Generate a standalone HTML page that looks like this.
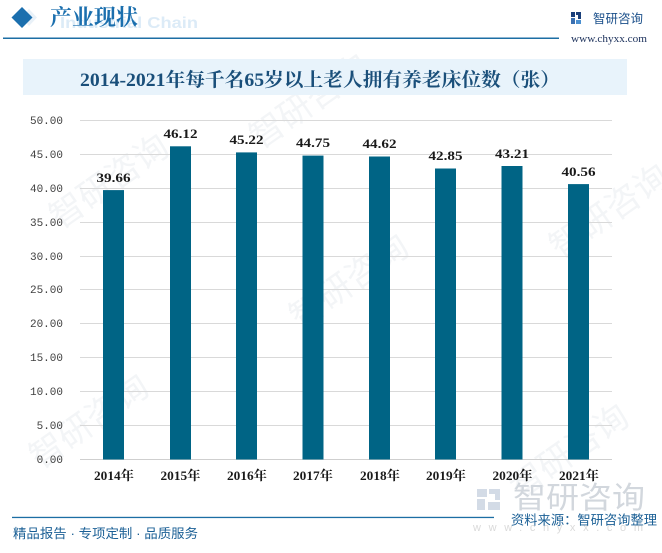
<!DOCTYPE html>
<html>
<head>
<meta charset="utf-8">
<style>
html,body{margin:0;padding:0;background:#fff;}
svg{display:block;}
</style>
</head>
<body>
<svg width="662" height="553" viewBox="0 0 662 553" xmlns="http://www.w3.org/2000/svg">
  <rect width="662" height="553" fill="#fff"/>

  <!-- faint background watermarks -->
  <g fill="#f3f5f7" font-family="'Liberation Sans','Noto Sans CJK SC',sans-serif" font-size="34">
    <text x="60" y="230" transform="rotate(-35 60 230)">智研咨询</text>
    <text x="300" y="330" transform="rotate(-35 300 330)">智研咨询</text>
    <text x="40" y="470" transform="rotate(-35 40 470)">智研咨询</text>
    <text x="560" y="260" transform="rotate(-35 560 260)">智研咨询</text>
    <text x="520" y="500" transform="rotate(-35 520 500)">智研咨询</text>
    <text x="260" y="150" transform="rotate(-35 260 150)">智研咨询</text>
  </g>

  <!-- header -->
  <polygon points="29,9 37,17.5 29,26 21,17.5" fill="#dbe8f3" opacity="0.6"/>
  <polygon points="22,7 32.5,17.5 22,28 11.5,17.5" fill="#1b6fae"/>
  <text x="60" y="28" font-family="'Liberation Sans',sans-serif" font-weight="bold" font-size="16" fill="#dcebf7" textLength="138" lengthAdjust="spacingAndGlyphs">Industrial Chain</text>
  <text x="50" y="25" font-family="'Liberation Serif','Noto Serif CJK SC',serif" font-size="22" font-weight="bold" fill="#1b6fae" textLength="88" lengthAdjust="spacingAndGlyphs">产业现状</text>
  <rect x="3" y="37.5" width="556" height="1.5" fill="#1c6ea4"/>

  <!-- top-right logo -->
  <g>
    <rect x="571" y="12" width="4" height="5" fill="#1a3f7a"/>
    <rect x="576" y="12" width="5" height="3" fill="#1a3f7a"/>
    <rect x="578" y="15" width="3" height="4" fill="#1a3f7a"/>
    <rect x="571" y="18" width="4" height="6" fill="#3a6fb0"/>
    <rect x="576" y="20" width="5" height="4" fill="#4a8fd0"/>
  </g>
  <text x="593" y="23" font-family="'Liberation Sans','Noto Sans CJK SC',sans-serif" font-size="12.5" fill="#1a4f8a" textLength="50" lengthAdjust="spacingAndGlyphs">智研咨询</text>
  <text x="571" y="42" font-family="'Liberation Serif',serif" font-size="10" fill="#1a2f5a" textLength="76" lengthAdjust="spacingAndGlyphs">www.chyxx.com</text>

  <!-- title box -->
  <rect x="23" y="59" width="604" height="36" fill="#e8f3fb"/>
  <text x="80" y="86" font-family="'Liberation Serif','Noto Serif CJK SC',serif" font-size="19" font-weight="bold" fill="#1a4f7a" textLength="480" lengthAdjust="spacingAndGlyphs">2014-2021年每千名65岁以上老人拥有养老床位数（张）</text>

  <!-- gridlines -->
  <g stroke="#d9d9d9" stroke-width="1">
    <line x1="80" y1="120.5" x2="612" y2="120.5"/>
    <line x1="80" y1="154.5" x2="612" y2="154.5"/>
    <line x1="80" y1="188.5" x2="612" y2="188.5"/>
    <line x1="80" y1="222.5" x2="612" y2="222.5"/>
    <line x1="80" y1="256.5" x2="612" y2="256.5"/>
    <line x1="80" y1="289.5" x2="612" y2="289.5"/>
    <line x1="80" y1="323.5" x2="612" y2="323.5"/>
    <line x1="80" y1="357.5" x2="612" y2="357.5"/>
    <line x1="80" y1="391.5" x2="612" y2="391.5"/>
    <line x1="80" y1="425.5" x2="612" y2="425.5"/>
  </g>
  <line x1="80" y1="459.5" x2="612" y2="459.5" stroke="#cfcfcf" stroke-width="1"/>

  <!-- y labels -->
  <g font-family="'Liberation Mono',monospace" font-size="11" fill="#404040" text-anchor="end">
    <text x="63" y="124">50.00</text>
    <text x="63" y="158">45.00</text>
    <text x="63" y="192">40.00</text>
    <text x="63" y="226">35.00</text>
    <text x="63" y="260">30.00</text>
    <text x="63" y="293">25.00</text>
    <text x="63" y="327">20.00</text>
    <text x="63" y="361">15.00</text>
    <text x="63" y="395">10.00</text>
    <text x="63" y="429">5.00</text>
    <text x="63" y="463">0.00</text>
  </g>

  <!-- bars -->
  <g fill="#006485">
    <rect x="103" y="190.1" width="21" height="269.4"/>
    <rect x="170" y="146.3" width="21" height="313.2"/>
    <rect x="236" y="152.4" width="21" height="307.1"/>
    <rect x="302.5" y="155.6" width="21" height="303.9"/>
    <rect x="369" y="156.5" width="21" height="303"/>
    <rect x="435" y="168.5" width="21" height="291"/>
    <rect x="501.5" y="166.0" width="21" height="293.5"/>
    <rect x="568" y="184.1" width="21" height="275.4"/>
  </g>

  <!-- data labels -->
  <g font-family="'Liberation Serif',serif" font-size="13" font-weight="bold" fill="#1a1a1a" text-anchor="middle">
    <text x="113.5" y="182" textLength="34" lengthAdjust="spacingAndGlyphs">39.66</text>
    <text x="180.5" y="138" textLength="34" lengthAdjust="spacingAndGlyphs">46.12</text>
    <text x="246.5" y="144" textLength="34" lengthAdjust="spacingAndGlyphs">45.22</text>
    <text x="313" y="147" textLength="34" lengthAdjust="spacingAndGlyphs">44.75</text>
    <text x="379.5" y="148" textLength="34" lengthAdjust="spacingAndGlyphs">44.62</text>
    <text x="445.5" y="160" textLength="34" lengthAdjust="spacingAndGlyphs">42.85</text>
    <text x="512" y="158" textLength="34" lengthAdjust="spacingAndGlyphs">43.21</text>
    <text x="578.5" y="176" textLength="34" lengthAdjust="spacingAndGlyphs">40.56</text>
  </g>

  <!-- x labels -->
  <g font-family="'Liberation Serif','Noto Serif CJK SC',serif" font-size="13" font-weight="bold" fill="#1a1a1a" text-anchor="middle">
    <text x="114" y="480" textLength="40" lengthAdjust="spacingAndGlyphs">2014年</text>
    <text x="180.5" y="480" textLength="40" lengthAdjust="spacingAndGlyphs">2015年</text>
    <text x="247" y="480" textLength="40" lengthAdjust="spacingAndGlyphs">2016年</text>
    <text x="313" y="480" textLength="40" lengthAdjust="spacingAndGlyphs">2017年</text>
    <text x="380" y="480" textLength="40" lengthAdjust="spacingAndGlyphs">2018年</text>
    <text x="446" y="480" textLength="40" lengthAdjust="spacingAndGlyphs">2019年</text>
    <text x="512.5" y="480" textLength="40" lengthAdjust="spacingAndGlyphs">2020年</text>
    <text x="579" y="480" textLength="40" lengthAdjust="spacingAndGlyphs">2021年</text>
  </g>

  <!-- bottom-right watermark logo -->
  <g fill="#d3dbe6">
    <rect x="477" y="489" width="10" height="8"/>
    <rect x="489" y="489" width="11" height="5"/>
    <rect x="495" y="494" width="5" height="6"/>
    <rect x="477" y="499" width="8" height="11"/>
    <rect x="488" y="502" width="12" height="8"/>
  </g>
  <text x="513" y="508" font-family="'Liberation Sans','Noto Sans CJK SC',sans-serif" font-size="30" fill="#d2d7dd" textLength="132" lengthAdjust="spacingAndGlyphs">智研咨询</text>
  <text x="473" y="531" font-family="'Liberation Sans',sans-serif" font-size="11" fill="#dadada" textLength="170" lengthAdjust="spacing">www.chyxx.com</text>

  <!-- footer -->
  <rect x="12" y="516.8" width="482" height="1.3" fill="#1c6ea4"/>
  <text x="511" y="524.5" font-family="'Liberation Sans','Noto Sans CJK SC',sans-serif" font-size="13" fill="#1a5f95" textLength="146" lengthAdjust="spacingAndGlyphs">资料来源：智研咨询整理</text>
  <text x="13" y="538" font-family="'Liberation Sans','Noto Sans CJK SC',sans-serif" font-size="13" fill="#1a5f95" textLength="185" lengthAdjust="spacingAndGlyphs">精品报告 · 专项定制 · 品质服务</text>
</svg>
</body>
</html>
